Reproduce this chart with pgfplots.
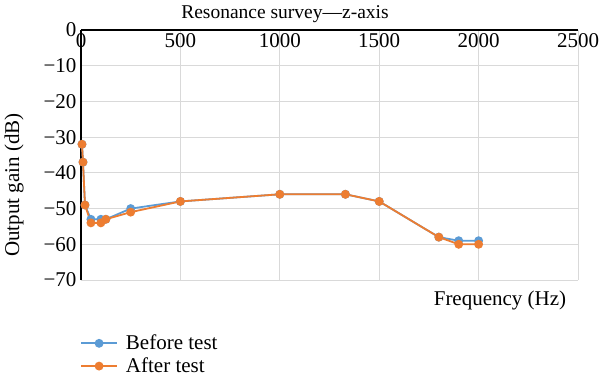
\documentclass[border=0pt]{standalone}
\usepackage{fontspec}
\setmainfont{Liberation Serif}
\usepackage{pgfplots}
\pgfplotsset{compat=1.18}
\definecolor{exblue}{HTML}{5B9BD5}
\definecolor{exorange}{HTML}{ED7D31}
\newcommand\fs{\fontsize{21bp}{24bp}\selectfont}
\newcommand\fst{\fontsize{19.5bp}{23bp}\selectfont}
\begin{document}
\begin{tikzpicture}
\useasboundingbox (0,0) rectangle (600bp,381bp);
\begin{axis}[
  at={(81bp,101bp)}, anchor=south west,
  scale only axis, width=497bp, height=250bp,
  xmin=0, xmax=2500, ymin=-70, ymax=0,
  axis x line*=middle, axis y line*=left,
  hide obscured x ticks=false, hide obscured y ticks=false,
  xtick={0,500,1000,1500,2000,2500},
  xticklabels={0,500,1000,1500,2000,2500},
  ytick={-70,-60,-50,-40,-30,-20,-10,0},
  yticklabels={−70,−60,−50,−40,−30,−20,−10,0},
  major tick length=0pt,
  grid=major,
  grid style={draw=black!15, line width=0.75bp},
  axis line style={black, line width=1.3bp},
  tick label style={font=\fs},
  xticklabel style={anchor=north, yshift=0bp},
  yticklabel style={anchor=east, xshift=-1bp},
  legend style={at={(rel axis cs:0,0)}, anchor=north west, yshift=-51bp, xshift=-4bp,
    draw=none, fill=none, font=\fs, row sep=2.5bp,
    /tikz/every odd column/.append style={column sep=6bp}},
  legend cell align=left,
  legend image code/.code={\draw[mark repeat=2,mark phase=2] plot coordinates {(0bp,0bp) (18bp,0bp) (36bp,0bp)};},
  clip=false,
]
\addplot[color=exblue, line width=1.8bp, mark=*, mark size=3.5bp, mark options={fill=exblue, draw=exblue}] coordinates {
  (5,-32) (10,-37) (20,-49) (50,-53) (100,-53) (125,-53) (250,-50) (500,-48)
  (1000,-46) (1330,-46) (1500,-48) (1800,-58) (1900,-59) (2000,-59)};
\addlegendentry{Before test}
\addplot[color=exorange, line width=1.8bp, mark=*, mark size=3.5bp, mark options={fill=exorange, draw=exorange}] coordinates {
  (5,-32) (10,-37) (20,-49) (50,-54) (100,-54) (125,-53) (250,-51) (500,-48)
  (1000,-46) (1330,-46) (1500,-48) (1800,-58) (1900,-60) (2000,-60)};
\addlegendentry{After test}
\end{axis}
\node[font=\fst] at (285bp,367bp) {Resonance survey—z-axis};
\node[font=\fs, rotate=90] at (14bp,196bp) {Output gain (dB)};
\node[font=\fs] at (500bp,81bp) {Frequency (Hz)};
\end{tikzpicture}
\end{document}
